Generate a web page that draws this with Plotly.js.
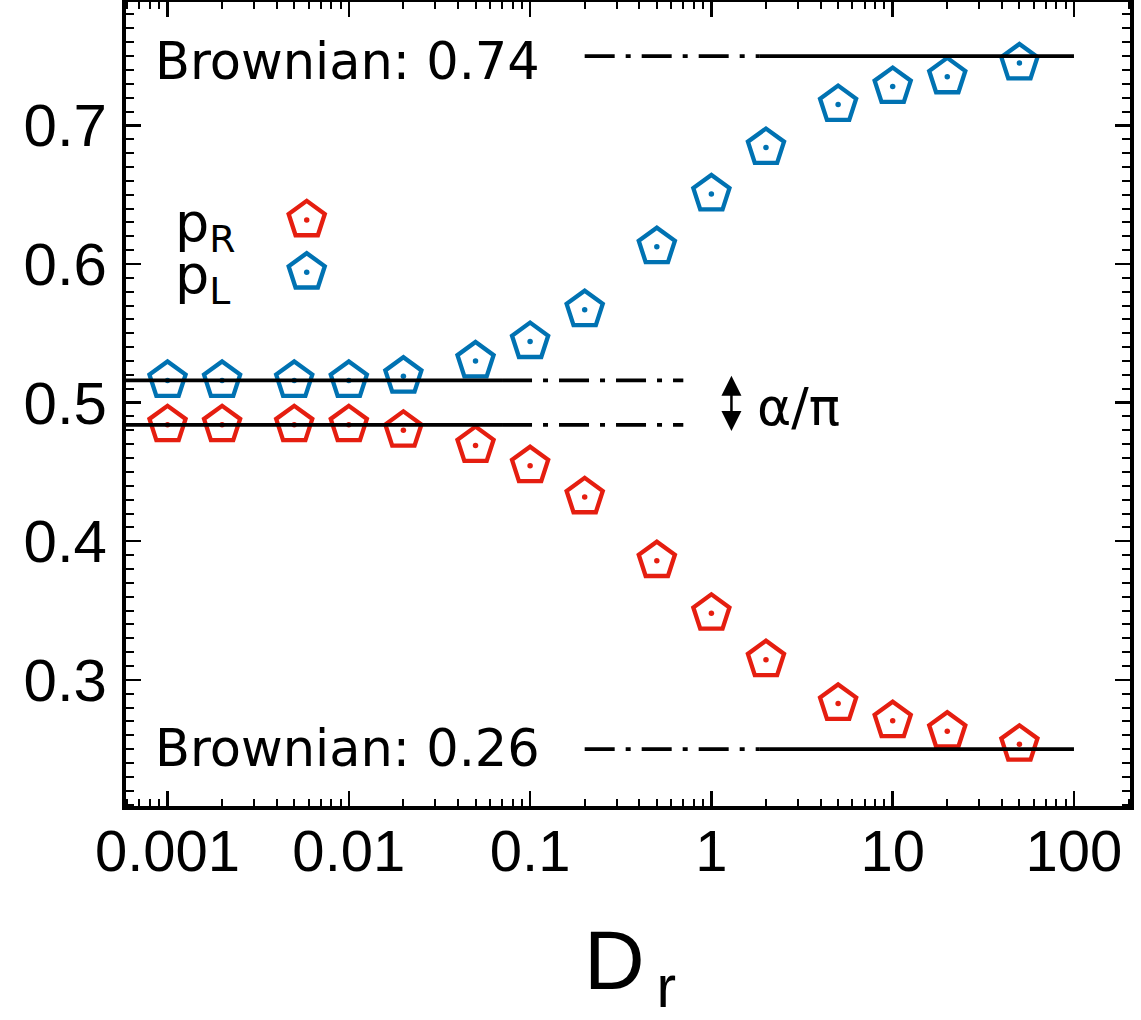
<!DOCTYPE html>
<html>
<head>
<meta charset="utf-8">
<script src="https://cdn.plot.ly/plotly-3.0.1.min.js"></script>
<style>html,body{margin:0;padding:0;background:#fff;}</style>
</head>
<body>
<div id="chart" style="width:1141px;height:1020px;"></div>
<script>
// ---- data ----
const Dr = [0.001, 0.002, 0.005, 0.01, 0.02, 0.05, 0.1, 0.2, 0.5, 1, 2, 5, 10, 20, 50];
const pR = [0.484, 0.484, 0.484, 0.484, 0.480, 0.469, 0.4545, 0.432, 0.386, 0.348, 0.3145, 0.283, 0.2705, 0.263, 0.2535];
const pL = [0.516, 0.516, 0.516, 0.516, 0.519, 0.530, 0.544, 0.567, 0.6125, 0.6505, 0.684, 0.715, 0.728, 0.735, 0.745];

const brownianHigh = 0.75;
const brownianLow = 0.25;
const alphaHigh = 0.516;
const alphaLow = 0.484;

const brownSolidX = [1.85, 100];
const brownDashX = [0.2, 1.85];
const alphaSolidX = [0.0004, 0.07];
const alphaDashX = [0.07, 0.7];
const arrowX = 1.29;
const arrowY = [0.4795, 0.5205];

const xTickVals = [0.001, 0.01, 0.1, 1, 10, 100];
const xTickText = ['0.001', '0.01', '0.1', '1', '10', '100'];

const legendNames = ['p<sub>R</sub>', 'p<sub>L</sub>'];
const legendKeyX = [0.18, 0.18];
const legendKeyY = [0.729, 0.664];

// ---- style ----
const RED = '#e51e10';
const BLUE = '#0072b2';
const BLACK = '#000000';
const DASHDOT = '30px,11px,5px,11px';
const LW = 3.8;

const minorX = [];
for (let e = -4; e <= 2; e++) {
  for (let m = 2; m <= 9; m++) minorX.push(m * Math.pow(10, e));
}

function hline(xs, yv, dash) {
  return {
    x: xs, y: [yv, yv], mode: 'lines', type: 'scatter',
    line: {color: BLACK, width: LW, dash: dash},
    showlegend: false, hoverinfo: 'skip'
  };
}

const markerStyle = (c) => ({symbol: 'pentagon-open', size: 38, color: c, line: {color: c, width: 4.3}});
const dotStyle = (c) => ({symbol: 'circle', size: 5.5, color: c, line: {width: 0}});

function series(xs, ys, c, name, extra) {
  return [
    Object.assign({x: xs, y: ys, mode: 'markers', type: 'scatter', name: name, marker: markerStyle(c), showlegend: false, hoverinfo: 'skip'}, extra || {}),
    Object.assign({x: xs, y: ys, mode: 'markers', type: 'scatter', name: name, marker: dotStyle(c), showlegend: false, hoverinfo: 'skip'}, extra || {})
  ];
}

const traces = [].concat(
  series(Dr, pR, RED, 'p_R'),
  series(Dr, pL, BLUE, 'p_L'),
  [
    hline(brownDashX, brownianHigh, DASHDOT),
    hline(brownSolidX, brownianHigh, 'solid'),
    hline(brownDashX, brownianLow, DASHDOT),
    hline(brownSolidX, brownianLow, 'solid'),
    hline(alphaSolidX, alphaHigh, 'solid'),
    hline(alphaDashX, alphaHigh, DASHDOT),
    hline(alphaSolidX, alphaLow, 'solid'),
    hline(alphaDashX, alphaLow, DASHDOT)
  ],
  series([legendKeyX[0]], [legendKeyY[0]], RED, 'key_R', {xaxis: 'x2', yaxis: 'y2'}),
  series([legendKeyX[1]], [legendKeyY[1]], BLUE, 'key_L', {xaxis: 'x2', yaxis: 'y2'})
);

const TICKFONT = {family: 'Liberation Sans, Arial, sans-serif', size: 58, color: BLACK};
const YTICKFONT = {family: 'Liberation Sans, Arial, sans-serif', size: 60, color: BLACK};
const LABFONT = {family: 'DejaVu Sans, sans-serif', size: 51, color: BLACK};

const layout = {
  width: 1141, height: 1020,
  margin: {l: 126, r: 11, t: 2, b: 214, pad: 0},
  paper_bgcolor: '#ffffff', plot_bgcolor: '#ffffff',
  showlegend: false,
  xaxis: {
    type: 'log', range: [-3.229, 2.309],
    tickmode: 'array', tickvals: xTickVals, ticktext: xTickText,
    ticks: 'inside', ticklen: 15, tickwidth: 2.5, tickcolor: BLACK,
    showline: true, linewidth: 4, linecolor: BLACK, mirror: 'allticks',
    showgrid: false, zeroline: false,
    tickfont: TICKFONT, ticklabelstandoff: -9,
    minor: {tickmode: 'array', tickvals: minorX, ticks: 'inside', ticklen: 7, tickwidth: 2, tickcolor: BLACK, showgrid: false}
  },
  yaxis: {
    range: [0.209, 0.789],
    tick0: 0, dtick: 0.1, tickformat: '.1f',
    ticks: 'inside', ticklen: 15, tickwidth: 2.5, tickcolor: BLACK,
    showline: true, linewidth: 4, linecolor: BLACK, mirror: 'allticks',
    showgrid: false, zeroline: false,
    tickfont: YTICKFONT, ticklabelstandoff: 3,
    minor: {dtick: 0.01, ticks: 'inside', ticklen: 8, tickwidth: 2, tickcolor: BLACK, showgrid: false}
  },
  xaxis2: {overlaying: 'x', range: [0, 1], visible: false, fixedrange: true},
  yaxis2: {overlaying: 'y', range: [0, 1], visible: false, fixedrange: true},
  annotations: [
    {text: 'Brownian: 0.74', xref: 'paper', yref: 'paper', x: 0.027, y: 0.926, xanchor: 'left', yanchor: 'middle', showarrow: false, font: LABFONT},
    {text: 'Brownian: 0.26', xref: 'paper', yref: 'paper', x: 0.027, y: 0.072, xanchor: 'left', yanchor: 'middle', showarrow: false, font: LABFONT},
    {text: legendNames[0], xref: 'paper', yref: 'paper', x: 0.047, y: 0.722, xanchor: 'left', yanchor: 'middle', showarrow: false, font: {family: 'DejaVu Sans, sans-serif', size: 54, color: BLACK}},
    {text: legendNames[1], xref: 'paper', yref: 'paper', x: 0.047, y: 0.657, xanchor: 'left', yanchor: 'middle', showarrow: false, font: {family: 'DejaVu Sans, sans-serif', size: 54, color: BLACK}},
    {text: 'α/π', xref: 'paper', yref: 'paper', x: 0.670, y: 0.496, xanchor: 'center', yanchor: 'middle', showarrow: false, font: {family: 'DejaVu Sans, sans-serif', size: 52, color: BLACK}},
    {text: '', xref: 'x', yref: 'y', axref: 'x', ayref: 'y',
     x: Math.log10(arrowX), y: arrowY[0], ax: Math.log10(arrowX), ay: arrowY[1],
     showarrow: true, arrowside: 'end+start', arrowhead: 2, arrowsize: 1.6, arrowwidth: 2.5, arrowcolor: BLACK, standoff: 0, startstandoff: 0},
    {text: 'D<sub>\u2009r</sub>', xref: 'paper', yref: 'paper', x: 0.454, y: -0.199, xanchor: 'left', yanchor: 'middle', showarrow: false, font: {family: 'Liberation Sans, Arial, sans-serif', size: 84, color: BLACK}}
  ]
};

Plotly.newPlot('chart', traces, layout, {staticPlot: true, displayModeBar: false});
</script>
</body>
</html>
